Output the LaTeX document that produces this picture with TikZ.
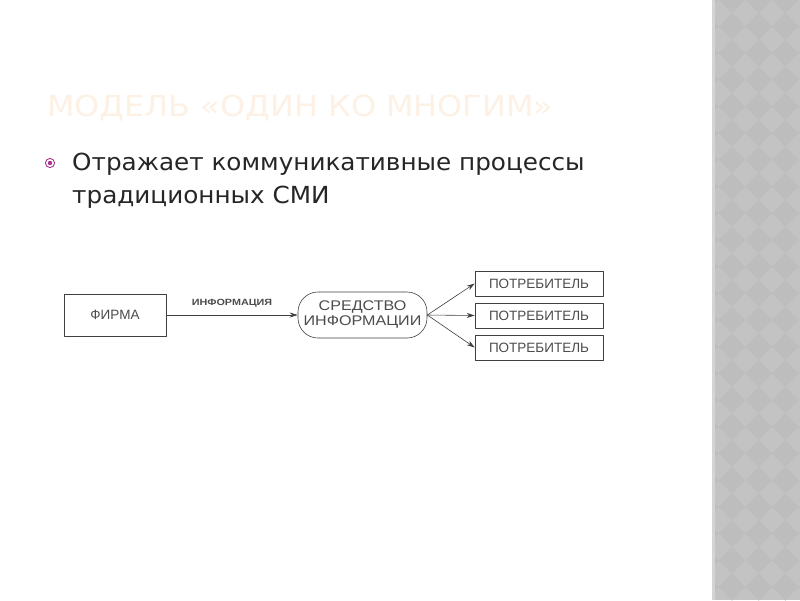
\documentclass[tikz,border=0pt]{standalone}
\usepackage{fontspec}
\setmainfont{DejaVu Sans}
\newfontfamily\titlefont[FakeStretch=1.1]{DejaVu Sans}
\newfontfamily\bodyfont[FakeStretch=1.05]{DejaVu Sans}
\newfontfamily\arialfont{Liberation Sans}
\newfontfamily\arialwide[FakeStretch=1.15]{Liberation Sans}
\newfontfamily\arialbwide[FakeStretch=1.2]{Liberation Sans Bold}
\usetikzlibrary{arrows.meta}
\definecolor{titlepeach}{RGB}{253,241,229}
\definecolor{bulletpink}{RGB}{168,52,140}
\definecolor{bandgray}{RGB}{195,195,195}
\definecolor{banddark}{RGB}{189,189,189}
\definecolor{bandedge}{RGB}{212,212,212}
\tikzset{
  blockbox/.style={draw=black!75, line width=0.6pt, font=\arialfont\fontsize{13.5}{15}\selectfont, text=black!70},
  flowline/.style={->, draw=black!75, line width=0.6pt}
}
\begin{document}
\begin{tikzpicture}[x=1pt, y=-1pt, >={Stealth[length=8pt,width=5pt]}, line join=round, line cap=round]
	\useasboundingbox (0,0) rectangle (800,600);
	\fill[white] (0,0) rectangle (800,600);
	% side band
	\fill[bandgray] (713,0) rectangle (800,600);
	\begin{scope}
		\clip (713,0) rectangle (800,600);
		\foreach \i in {-1,...,3}
			\foreach \j in {-1,...,23}
				\fill[banddark] ({732+26.7*\i},{13+26.7*\j}) -- ++(13.35,13.35) -- ++(-13.35,13.35) -- ++(-13.35,-13.35) -- cycle;
	\end{scope}
	\fill[bandedge] (712,0) rectangle (715,600);
	% title and text
	\node[anchor=base west, inner sep=0, text=titlepeach, font=\titlefont\fontsize{29}{34}\selectfont] (title) at (47,116) {МОДЕЛЬ «ОДИН КО МНОГИМ»};
	\draw[bulletpink, line width=0.9pt] (50,163) circle (4.6);
	\fill[bulletpink] (50,163) circle (2.2);
	\node[anchor=base west, inner sep=0, text=black!85, font=\bodyfont\fontsize{23.5}{30}\selectfont] (line1) at (72,170) {Отражает коммуникативные процессы};
	\node[anchor=base west, inner sep=0, text=black!85, font=\bodyfont\fontsize{23.5}{30}\selectfont] (line2) at (72,203) {традиционных СМИ};
	% diagram
	\node[blockbox, minimum width=102, minimum height=42] (firma) at (115,315) {ФИРМА};
	\node[blockbox, font=\arialwide\fontsize{14}{15}\selectfont, rounded corners=20pt, minimum width=129, minimum height=46, align=center, inner sep=0] (sredstvo) at (362.5,315) {СРЕДСТВО\\ИНФОРМАЦИИ};
	\foreach \k/\y in {1/283.5, 2/315.5, 3/347.5}
		\node[blockbox, minimum width=128, minimum height=25, inner sep=0] (potr\k) at (539,\y) {ПОТРЕБИТЕЛЬ};
	\draw[flowline] (firma.east) -- node[above=4pt, font=\arialbwide\fontsize{9}{10}\selectfont, text=black!70] (info) {ИНФОРМАЦИЯ} (sredstvo.west);
	\foreach \k in {1,2,3}
		\draw[flowline] (sredstvo.east) -- (potr\k.west);
\end{tikzpicture}
\end{document}
